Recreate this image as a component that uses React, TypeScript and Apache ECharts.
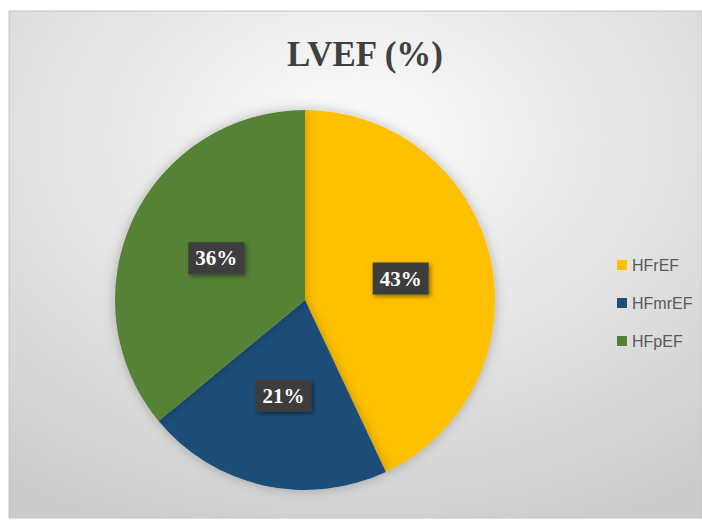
import React, { useEffect, useRef } from "react";
import * as echarts from "echarts";

const TITLE = "LVEF (%)";
const categories = ["HFrEF", "HFmrEF", "HFpEF"];
const values = [43, 21, 36];
const colors = ["#FFC000", "#1F4E79", "#548235"];

export default function App() {
  const ref = useRef<HTMLDivElement>(null);
  useEffect(() => {
    const chart = echarts.init(ref.current!, null, { renderer: "svg" });
    chart.setOption({
      animation: false,
      graphic: [
        {
          type: "rect",
          z: -10,
          shape: { x: 9, y: 11, width: 693, height: 507 },
          style: {
            fill: {
              type: "radial",
              x: 0.5,
              y: 0.25,
              r: 0.85,
              colorStops: [
                { offset: 0, color: "#fcfcfc" },
                { offset: 0.55, color: "#e2e2e2" },
                { offset: 1, color: "#cbcbcb" },
              ],
            },
            stroke: "#c4c4c4",
            lineWidth: 1,
          },
        },
      ],
      title: {
        text: TITLE,
        left: 360,
        textAlign: "center",
        top: 32,
        textStyle: {
          fontFamily: "Liberation Serif",
          fontWeight: "bold",
          fontSize: 35,
          color: "#404040",
        },
      },
      legend: {
        orient: "vertical",
        left: 612,
        top: 252,
        itemWidth: 10,
        itemHeight: 10,
        itemGap: 22,
        icon: "rect",
        data: categories,
        textStyle: {
          fontFamily: "Liberation Sans",
          fontSize: 16,
          lineHeight: 16,
          color: "#595959",
        },
      },
      series: [
        {
          type: "pie",
          center: [305, 300],
          radius: 190,
          startAngle: 90,
          clockwise: true,
          data: categories.map((name, i) => ({
            name,
            value: values[i],
            itemStyle: { color: colors[i] },
          })),
          itemStyle: {
            shadowBlur: 12,
            shadowColor: "rgba(0,0,0,0.25)",
          },
          label: {
            show: true,
            position: "inside",
            formatter: (p: any) => `${p.value}%`,
            fontFamily: "Liberation Serif",
            fontWeight: "bold",
            fontSize: 21,
            lineHeight: 22,
            color: "#ffffff",
            backgroundColor: "#3d3d3d",
            padding: [5, 7],
            shadowBlur: 4,
            shadowColor: "rgba(0,0,0,0.45)",
            shadowOffsetX: 2,
            shadowOffsetY: 2,
          },
          labelLine: { show: false },
          emphasis: { disabled: true },
        },
      ],
    });
    return () => chart.dispose();
  }, []);
  return (
    <div
      ref={ref}
      style={{ position: "absolute", left: 0, top: 0, width: 702, height: 520, background: "#ffffff" }}
    />
  );
}
